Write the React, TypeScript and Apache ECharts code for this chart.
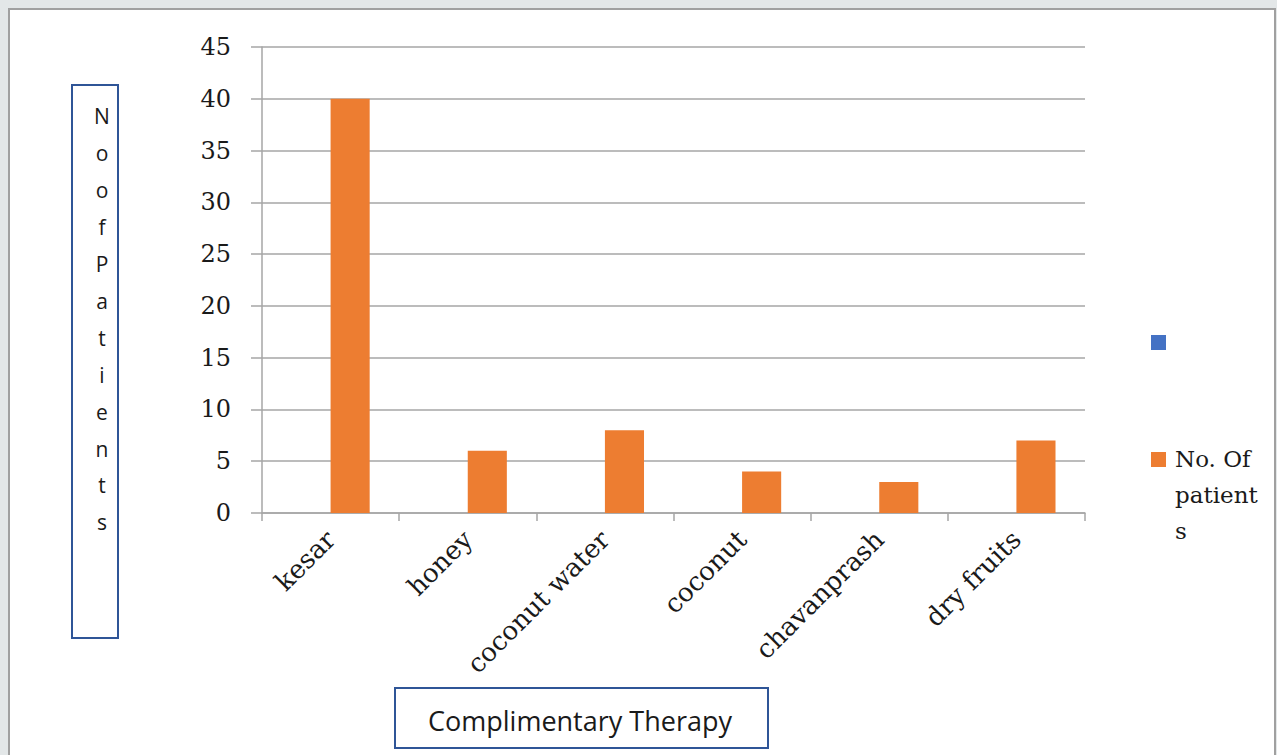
import React, { useEffect, useRef } from "react";
import * as echarts from "echarts";

const categories = ["kesar", "honey", "coconut water", "coconut", "chavanprash", "dry fruits"];
const seriesBlankName = "Series1";
const seriesBlank = [null, null, null, null, null, null];
const seriesPatientsName = "No. Of patients";
const seriesPatients = [40, 6, 8, 4, 3, 7];
const yTicks = { min: 0, max: 45, interval: 5 };
const yTitle = "No of Patients";
const xTitle = "Complimentary Therapy";

const SERIF = "'DejaVu Serif', serif";
const SANS = "'Open Sans', 'Noto Sans', sans-serif";

export default function App() {
  const ref = useRef<HTMLDivElement>(null);
  useEffect(() => {
    if (!ref.current) return;
    const chart = echarts.init(ref.current, undefined, { renderer: "svg" });
    const yLetters = yTitle.replace(/ /g, "").split("").join("\n");
    chart.setOption({
      animation: false,
      backgroundColor: "#e3e7e8",
      grid: { left: 262, right: 192, top: 47, bottom: 242, containLabel: false },
      xAxis: {
        type: "category",
        data: categories,
        boundaryGap: true,
        axisLine: { show: true, lineStyle: { color: "#a6a6a6", width: 1.5 } },
        axisTick: { show: true, length: 8, alignWithLabel: false, lineStyle: { color: "#a6a6a6", width: 1.5 } },
        axisLabel: { rotate: 45, margin: 22, fontFamily: SERIF, fontSize: 26, color: "#1a1a1a", interval: 0 },
      },
      yAxis: {
        type: "value",
        min: yTicks.min,
        max: yTicks.max,
        interval: yTicks.interval,
        axisLine: { show: true, lineStyle: { color: "#a6a6a6", width: 1.5 } },
        axisTick: { show: true, length: 11, lineStyle: { color: "#a6a6a6", width: 1.5 } },
        splitLine: { show: true, lineStyle: { color: "#a6a6a6", width: 1.5 } },
        axisLabel: { margin: 31, fontFamily: SERIF, fontSize: 24, color: "#1a1a1a" },
      },
      series: [
        {
          name: seriesBlankName,
          type: "bar",
          data: seriesBlank,
          itemStyle: { color: "#4472c4" },
          barGap: "0%",
          barCategoryGap: "43%",
        },
        {
          name: seriesPatientsName,
          type: "bar",
          data: seriesPatients,
          itemStyle: { color: "#ed7d31" },
          barGap: "0%",
          barCategoryGap: "43%",
        },
      ],
      graphic: [
        {
          type: "rect",
          z: -10,
          shape: { x: 9, y: 9, width: 1266, height: 760 },
          style: { fill: "#ffffff", stroke: "#a0a0a0", lineWidth: 2 },
          silent: true,
        },
        {
          type: "rect",
          shape: { x: 72, y: 85, width: 46, height: 553 },
          style: { fill: "none", stroke: "#2f5597", lineWidth: 2 },
        },
        {
          type: "text",
          x: 102,
          y: 98,
          style: {
            text: yLetters,
            fontFamily: SANS,
            fontSize: 21,
            lineHeight: 36.9,
            fill: "#1a1a1a",
            align: "center",
            verticalAlign: "top",
          },
        },
        {
          type: "rect",
          shape: { x: 395, y: 688, width: 373, height: 60 },
          style: { fill: "none", stroke: "#2f5597", lineWidth: 2 },
        },
        {
          type: "text",
          x: 580,
          y: 720,
          style: {
            text: xTitle,
            fontFamily: SANS,
            fontSize: 27,
            fill: "#1a1a1a",
            align: "center",
            verticalAlign: "middle",
          },
        },
        {
          type: "rect",
          shape: { x: 1151, y: 335, width: 15, height: 15 },
          style: { fill: "#4472c4" },
        },
        {
          type: "rect",
          shape: { x: 1151, y: 452, width: 15, height: 15 },
          style: { fill: "#ed7d31" },
        },
        {
          type: "text",
          x: 1175,
          y: 441,
          style: {
            text: "No. Of\npatient\ns",
            fontFamily: SERIF,
            fontSize: 23,
            lineHeight: 36,
            fill: "#1a1a1a",
            align: "left",
            verticalAlign: "top",
          },
        },
      ],
    });
    return () => chart.dispose();
  }, []);
  return (
    <div
      ref={ref}
      style={{ position: "fixed", left: 0, top: 0, width: 1277, height: 755 }}
    />
  );
}
